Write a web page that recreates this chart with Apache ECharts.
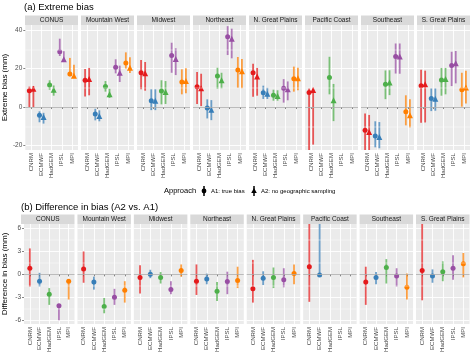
<!DOCTYPE html>
<html><head><meta charset="utf-8">
<script src="https://cdn.jsdelivr.net/npm/echarts@6/dist/echarts.min.js"></script>
<style>html,body{margin:0;padding:0;background:#fff}#c{width:474px;height:355px}</style>
</head><body><div id="c"></div>
<script>
const regions = ['CONUS','Mountain West','Midwest','Northeast','N. Great Plains','Pacific Coast','Southeast','S. Great Plains'];
const models = ['CNRM','ECMWF','HadGEM','IPSL','MPI'];
const modelColors = ['#E41A1C','#377EB8','#4DAF4A','#984EA3','#FF7F00'];

// (a) Extreme bias, A1: true bias  (rows = regions, cols = models)
const a1Est = [[8.5,-4.3,11.5,28.7,17.1],[13.9,-3.6,10.7,20.6,22.9],[17.8,3.3,8.3,26.7,13],[10.6,-0.5,16.1,36.5,19.2],[17.8,7.4,6.1,9.7,14.7],[7.6,null,15.4,null,null],[-12,-15,11.8,26.2,-2.5],[11.1,4.5,14,21.6,9]];
const a1Lo  = [[0,-7.9,9,26.5,16],[5.5,-6.9,8,17.5,20],[9.2,-1.6,1.4,17.8,6.6],[1.6,-5.9,9.5,27,10],[5.4,4.2,3.3,2.3,8],[-30,null,6.6,null,null],[-24,-20.9,4.1,17.4,-9.5],[-8.1,-2.1,5.9,10.9,0.2]];
const a1Hi  = [[10.6,-2.2,13.9,35.5,25.5],[19.7,-0.9,13.5,24.8,28.4],[24.4,9.2,13.9,33.4,19.6],[18.2,4,20.4,42,26],[22.5,11.1,9,14.5,21],[9.6,null,26.1,null,null],[-3.4,-7.4,19,33,6.1],[19.4,9.7,20.3,28.7,17.8]];
// (a) Extreme bias, A2: no geographic sampling
const a2Est = [[9.5,-5.2,9,24.8,16.3],[14.5,-4.7,6.6,17.8,20.4],[17.5,3.3,7.8,24.9,13.5],[9.7,-1.4,13.9,35.5,18.6],[15.9,6.9,5.7,9.2,14.9],[8.8,null,3.5,null,null],[-13,-15.5,12.8,26.2,-4.3],[11.8,4.3,14.5,22.7,10.2]];
const a2Lo  = [[0,-8.6,5.9,23.5,15.3],[6.1,-7.4,4.7,13,17.7],[8.5,-1.6,1.6,16.6,7.1],[0.5,-6.8,9.7,25.3,9.8],[5.9,4.2,3.3,3.5,8.7],[-19.5,null,-7.3,null,null],[-24,-21.4,6.2,17.3,-10.6],[-8,-1.9,6.6,12.3,1.9]];
const a2Hi  = [[10.9,-3,11.2,29,22],[20.3,-1.7,9.5,21.5,25.8],[23.4,9.2,13.5,30.5,20.1],[17.3,3.6,17.8,40.7,24.9],[20.3,10,8.7,13.3,20.4],[10,null,12,null,null],[-4.1,-7.8,19.1,33,4],[18.9,9.7,20.3,29.1,18.9]];
// (b) Difference in bias (A2 vs. A1)
const dEst = [[0.8,-0.9,-2.6,-4.1,-0.9],[0.7,-1,-4.2,-3,-2.1],[-0.4,0,-0.4,-2,0.5],[-0.9,-0.6,-2.2,-0.95,-0.8],[-1.9,-0.5,-0.4,-0.7,0.1],[1,-0.1,null,null,null],[-1,-0.4,0.9,-0.2,-1.7],[0.5,-0.2,0.35,0.8,1.4]];
const dLo  = [[-1.6,-1.6,-4,-6,-3.3],[-1.1,-2,-5.1,-4,-3.7],[-2.5,-0.5,-1.2,-2.6,-0.3],[-2.7,-1.3,-3.5,-2.6,-1.8],[-3.7,-1.4,-1.8,-1.7,-1.3],[-3.6,-0.2,null,null,null],[-4,-1.3,-1.2,-1.6,-3.3],[-3.4,-1.1,-0.9,-0.7,-0.4]];
const dHi  = [[3.4,0.2,-1.8,-4,-0.7],[3,-0.3,-3.1,-1.9,-0.9],[1.2,0.6,0.3,-0.9,1.3],[1.3,0.1,-1,0.35,1],[1.9,0.4,0.9,0.8,1.3],[8,8,null,null,null],[1,0.3,2,0.8,0.1],[8,0.65,1.7,2.5,2.8]];

const topTicks = [-20,0,20,40];
const topMinor = [-10,10,30];
const botTicks = [-6,-3,0,3,6];
const botMinor = [-4.5,-1.5,1.5,4.5];
const xTicks = [1,2,3,4,5];

const FONT = '"Liberation Sans", Arial, sans-serif';
const chart = echarts.init(document.getElementById('c'), null, {renderer:'canvas'});

const grids = [], xAxes = [], yAxes = [], series = [], graphics = [];
const panels = [
  {top:25, h:125, left0:25, step:56, w:53, ymin:-22.3, ymax:42.6, ticks:topTicks, minor:topMinor, name:'Extreme bias (mm)'},
  {top:224, h:101, left0:21, step:56.43, w:53.5, ymin:-6.5, ymax:6.6, ticks:botTicks, minor:botMinor, name:'Difference in bias (mm)'}
];

function errSeries(idx, data, name) {
  return {
    type:'custom', name:name, xAxisIndex:idx, yAxisIndex:idx, clip:true, z:3, silent:true,
    encode:{x:0, y:[1,2]}, data:data,
    renderItem:(params, api) => {
      const x = api.value(0);
      const p1 = api.coord([x, api.value(1)]);
      const p2 = api.coord([x, api.value(2)]);
      return {type:'line', shape:{x1:p1[0], y1:p1[1], x2:p2[0], y2:p2[1]},
        style:{stroke:modelColors[api.value(3)], lineWidth:1.8, opacity:0.72}};
    }
  };
}
function ptSeries(idx, data, symbol, size) {
  return {type:'scatter', xAxisIndex:idx, yAxisIndex:idx, symbol:symbol, symbolSize:size, z:4, silent:true,
    data:data, itemStyle:{color:(p)=>modelColors[p.data[2]], opacity:1}};
}

panels.forEach((P, pi) => {
  regions.forEach((reg, r) => {
    const idx = pi*8 + r;
    const left = P.left0 + P.step*r;
    grids.push({left:left, top:P.top, width:P.w, height:P.h, backgroundColor:'#EBEBEB', show:true, borderWidth:0});
    xAxes.push({type:'value', gridIndex:idx, min:0.4, max:5.6,
      axisLine:{show:false},
      axisTick:{show:true, customValues:xTicks, length:2, lineStyle:{color:'#333', width:0.6}},
      axisLabel:{customValues:xTicks, rotate:90, fontSize:6.1, color:'#4D4D4D', fontFamily:FONT, margin:3,
        formatter:(v)=>models[Math.round(v)-1]},
      splitLine:{show:true, lineStyle:{color:'#FFFFFF', width:0.9}}});
    yAxes.push({type:'value', gridIndex:idx, min:P.ymin, max:P.ymax,
      name: r===0 ? P.name : '', nameLocation:'middle', nameRotate:90, nameGap:15,
      nameTextStyle:{fontSize:8, color:'#000', fontFamily:FONT},
      axisLine:{show:false},
      axisTick:{show:r===0, customValues:P.ticks, length:2, lineStyle:{color:'#333', width:0.6}},
      axisLabel:{show:r===0, customValues:P.ticks, fontSize:6.5, color:'#4D4D4D', fontFamily:FONT, margin:3},
      splitLine:{show:true, lineStyle:{color:'#FFFFFF', width:0.9}}});
    // minor grid + zero line
    series.push({type:'line', xAxisIndex:idx, yAxisIndex:idx, data:[], z:1, silent:true,
      markLine:{silent:true, symbol:['none','none'], label:{show:false}, animation:false,
        data:[...P.minor.map(v=>({yAxis:v, lineStyle:{color:'#FFFFFF', width:0.45, type:'solid'}})),
              {yAxis:0, lineStyle:{color:'#A9A9A9', width:0.8, type:'solid'}}]}});
    // strip
    graphics.push({type:'rect', shape:{x:left, y:P.top-9.5, width:P.w, height:9.5}, style:{fill:'#D9D9D9'}, silent:true});
    graphics.push({type:'text', x:left+P.w/2, y:P.top-4.6, silent:true,
      style:{text:reg, fontSize:6.5, fill:'#1A1A1A', font:'6.5px '+FONT, align:'center', verticalAlign:'middle'}});

    if (pi === 0) {
      const e1=[], e2=[], p1=[], p2=[];
      models.forEach((m, k) => {
        if (a1Est[r][k] !== null) { e1.push([k+1-0.2, a1Lo[r][k], a1Hi[r][k], k]); p1.push([k+1-0.2, a1Est[r][k], k]); }
        if (a2Est[r][k] !== null) { e2.push([k+1+0.2, a2Lo[r][k], a2Hi[r][k], k]); p2.push([k+1+0.2, a2Est[r][k], k]); }
      });
      series.push(errSeries(idx, e1, 'A1'), errSeries(idx, e2, 'A2'));
      series.push(ptSeries(idx, p1, 'circle', 5), ptSeries(idx, p2, 'triangle', 6));
    } else {
      const e=[], p=[];
      models.forEach((m, k) => {
        if (dEst[r][k] !== null) { e.push([k+1, dLo[r][k], dHi[r][k], k]); p.push([k+1, dEst[r][k], k]); }
      });
      series.push(errSeries(idx, e, 'D'), ptSeries(idx, p, 'circle', 5));
    }
  });
});

// titles
graphics.push({type:'text', x:24, y:7.5, silent:true, style:{text:'(a) Extreme bias', font:'9.5px '+FONT, fill:'#000', verticalAlign:'middle'}});
graphics.push({type:'text', x:21, y:207, silent:true, style:{text:'(b) Difference in bias (A2 vs. A1)', font:'9.5px '+FONT, fill:'#000', verticalAlign:'middle'}});
// legend
const LY = 191;
graphics.push({type:'text', x:164, y:LY, silent:true, style:{text:'Approach', font:'7.5px '+FONT, fill:'#000', verticalAlign:'middle'}});
graphics.push({type:'line', shape:{x1:204, y1:LY-5, x2:204, y2:LY+5}, style:{stroke:'#000', lineWidth:1.5}, silent:true});
graphics.push({type:'circle', shape:{cx:204, cy:LY, r:2.4}, style:{fill:'#000'}, silent:true});
graphics.push({type:'text', x:211, y:LY, silent:true, style:{text:'A1: true bias', font:'6px '+FONT, fill:'#000', verticalAlign:'middle'}});
graphics.push({type:'line', shape:{x1:254, y1:LY-5, x2:254, y2:LY+5}, style:{stroke:'#000', lineWidth:1.5}, silent:true});
graphics.push({type:'polygon', shape:{points:[[254,LY-3],[251.2,LY+2],[256.8,LY+2]]}, style:{fill:'#000'}, silent:true});
graphics.push({type:'text', x:261, y:LY, silent:true, style:{text:'A2: no geographic sampling', font:'6px '+FONT, fill:'#000', verticalAlign:'middle'}});

chart.setOption({
  animation:false,
  backgroundColor:'#FFFFFF',
  textStyle:{fontFamily:FONT},
  grid:grids, xAxis:xAxes, yAxis:yAxes, series:series, graphic:graphics
});
</script></body></html>
